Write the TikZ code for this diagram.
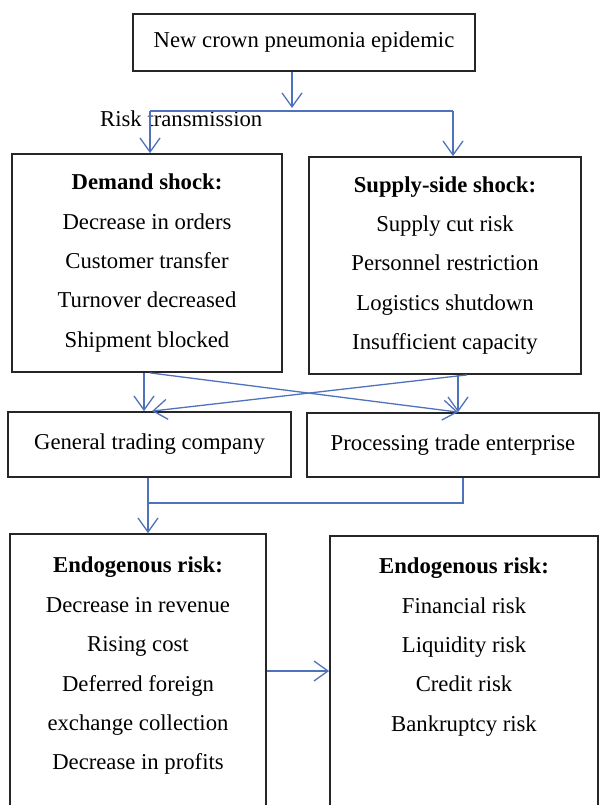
\documentclass[tikz,border=0pt]{standalone}
\usepackage{fontspec}
\setmainfont{Liberation Serif}
\usetikzlibrary{arrows.meta,fit}
\definecolor{linkblue}{RGB}{79,114,189}
\tikzset{
  box/.style={draw=black!85, line width=1.8pt, align=center, inner sep=0pt},
  txt/.style={align=center, inner sep=0pt},
  link/.style={draw=linkblue, line width=1.3pt},
  arr/.style={link, -{Straight Barb[length=14pt,width=20pt]}},
}
\begin{document}
\begin{tikzpicture}[x=1pt,y=-1pt,font=\fontsize{22.7pt}{39.4pt}\selectfont]
  \useasboundingbox (0,0) rectangle (600,805);
  \node (top) [box, minimum width=342pt, minimum height=57pt] at (304,42.5) {New crown pneumonia epidemic};
  \node (demand) [box, minimum width=270pt, minimum height=218pt] at (147,263)
    {\textbf{Demand shock:}\\Decrease in orders\\Customer transfer\\Turnover decreased\\Shipment blocked};
  \node (supply) [box, minimum width=272pt, minimum height=217pt] at (445,265.5)
    {\textbf{Supply-side shock:}\\Supply cut risk\\Personnel restriction\\Logistics shutdown\\Insufficient capacity};
  \node (general) [box, minimum width=283pt, minimum height=65pt] at (149.5,444.5) {General trading company};
  \node (process) [box, minimum width=292pt, minimum height=64pt] at (453,445) {Processing trade enterprise};
  \node (endoLtext) [txt] at (138,666)
    {\textbf{Endogenous risk:}\\Decrease in revenue\\Rising cost\\Deferred foreign\\exchange collection\\Decrease in profits};
  \node (endoL) [box, fit={(10,534) (266,830)}] {};
  \node (endoRtext) [txt] at (464,647)
    {\textbf{Endogenous risk:}\\Financial risk\\Liquidity risk\\Credit risk\\Bankruptcy risk};
  \node (endoR) [box, fit={(330,536) (598,830)}] {};
  \node (risk) [anchor=base west, inner sep=0pt] at (100,127) {Risk transmission};
  % risk transmission
  \coordinate (fork) at (292,111);
  \coordinate (forkL) at (150,111);
  \coordinate (forkR) at (453,111);
  \draw[arr] (top.south -| fork) -- ([yshift=3pt]fork);
  \draw[link] (forkL) -- (forkR);
  \draw[arr] (forkL) -- (forkL |- demand.north);
  \draw[arr] (forkR) -- (forkR |- supply.north);
  % shocks to enterprises
  \draw[arr] ([xshift=-3pt]demand.south) -- ([xshift=-5.5pt]general.north);
  \draw[arr] ([xshift=3pt]demand.south) -- ([xshift=5pt]process.north);
  \draw[arr] ([xshift=13pt]supply.south) -- ([xshift=5pt]process.north);
  \draw[arr] ([xshift=22pt]supply.south) -- ([xshift=2.5pt]general.north);
  % enterprises to risk
  \coordinate (join) at (148,503);
  \draw[link] ([xshift=10pt]process.south) |- (join);
  \draw[arr] ([xshift=-1.5pt]general.south) -- (join |- endoL.north);
  \coordinate (side) at ([yshift=11pt]endoL.east);
  \draw[arr] (side) -- (side -| endoR.west);
\end{tikzpicture}
\end{document}
